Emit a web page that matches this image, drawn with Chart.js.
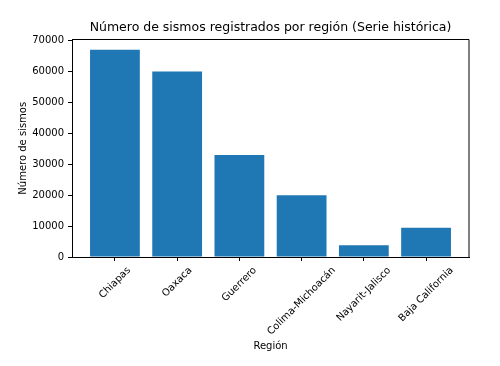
<!DOCTYPE html>
<html>
<head>
<meta charset="utf-8">
<script src="https://cdn.jsdelivr.net/npm/chart.js@4/dist/chart.umd.min.js"></script>
<style>
  html, body { margin: 0; padding: 0; background: #fff; }
  #wrap { width: 500px; height: 366px; }
</style>
</head>
<body>
<div id="wrap"><canvas id="chart" width="500" height="366"></canvas></div>
<script>
const regions = ["Chiapas", "Oaxaca", "Guerrero", "Colima-Michoacán", "Nayarit-Jalisco", "Baja California"];
const counts = [67000, 60000, 33000, 20000, 3800, 9500];
const yTicks = [0, 10000, 20000, 30000, 40000, 50000, 60000, 70000];

Chart.defaults.font.family = "'DejaVu Sans', sans-serif";
Chart.defaults.color = "#000";

// matplotlib-style: frame on all sides + centred 45° tick labels
const frameAndLabels = {
  id: "frameAndLabels",
  afterDraw(chart) {
    const { ctx, chartArea: a } = chart;
    const xs = chart.scales.x;
    ctx.save();
    ctx.strokeStyle = "#000";
    ctx.lineWidth = 1;
    ctx.beginPath();
    ctx.moveTo(a.left, a.top);
    ctx.lineTo(a.right, a.top);
    ctx.lineTo(a.right, a.bottom);
    ctx.stroke();

    ctx.font = "10px 'DejaVu Sans', sans-serif";
    ctx.fillStyle = "#000";
    ctx.textAlign = "center";
    ctx.textBaseline = "middle";
    regions.forEach((r, i) => {
      const x = xs.getPixelForValue(i);
      const w = ctx.measureText(r).width;
      const cy = a.bottom + 7.5 + (w + 12) * Math.SQRT1_2 / 2;
      ctx.save();
      ctx.translate(x, cy);
      ctx.rotate(-Math.PI / 4);
      ctx.fillText(r, 0, 0);
      ctx.restore();
    });
    ctx.restore();
  }
};

new Chart(document.getElementById("chart"), {
  type: "bar",
  data: {
    datasets: [{
      data: counts.map((v, i) => ({ x: i, y: v })),
      backgroundColor: "#1f77b4",
      borderWidth: 0,
      barPercentage: 0.8,
      categoryPercentage: 1
    }]
  },
  options: {
    responsive: false,
    animation: false,
    layout: { padding: { right: 31 } },
    plugins: {
      legend: { display: false },
      tooltip: { enabled: false },
      title: {
        display: true,
        text: "Número de sismos registrados por región (Serie histórica)",
        fullSize: false,
        font: { size: 12.5, weight: "normal", lineHeight: 1.2 },
        color: "#000",
        padding: { top: 20.5, bottom: 4 }
      }
    },
    scales: {
      x: {
        type: "linear",
        min: -0.69,
        max: 5.69,
        offset: false,
        afterBuildTicks: (s) => { s.ticks = regions.map((_, i) => ({ value: i })); },
        afterFit: (s) => { s.height = 109; },
        ticks: { display: false },
        grid: { offset: false, drawOnChartArea: false, drawTicks: true, tickLength: 4, color: "#000" },
        border: { color: "#000", width: 1 },
        title: {
          display: true,
          text: "Región",
          font: { size: 10, lineHeight: 1.2 },
          color: "#000",
          padding: { top: 0, bottom: 13.5 }
        }
      },
      y: {
        min: 0,
        max: 70350,
        afterBuildTicks: (s) => { s.ticks = yTicks.map(v => ({ value: v })); },
        afterFit: (s) => { s.width = 72; },
        ticks: { font: { size: 10 }, color: "#000", padding: 4, callback: (v) => String(v) },
        grid: { drawOnChartArea: false, drawTicks: true, tickLength: 4, color: "#000" },
        border: { color: "#000", width: 1 },
        title: {
          display: true,
          text: "Número de sismos",
          font: { size: 10, lineHeight: 1.2 },
          color: "#000",
          padding: { top: 17, bottom: 0 }
        }
      }
    }
  },
  plugins: [frameAndLabels]
});
</script>
</body>
</html>
